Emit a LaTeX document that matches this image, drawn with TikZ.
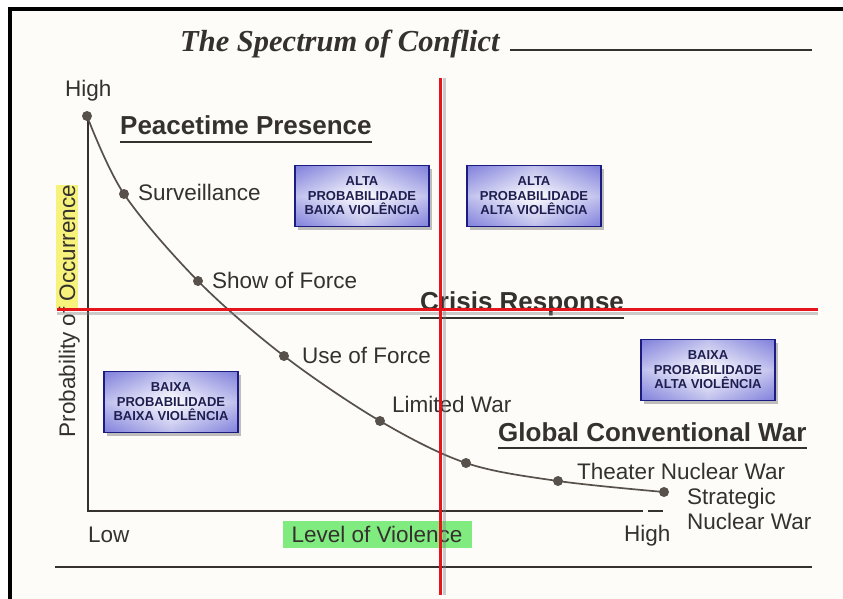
\documentclass[tikz,border=0pt]{standalone}
\usepackage{fontspec}
\setmainfont{Liberation Sans}
\newfontfamily\titlefont{Liberation Serif}
\usetikzlibrary{shadows}
\definecolor{paper}{HTML}{FDFCF8}
\definecolor{ink}{HTML}{35312E}
\definecolor{navy}{HTML}{1C1C80}
\definecolor{boxtext}{HTML}{1E1E50}
\definecolor{boxblue}{HTML}{8080DC}
\definecolor{redline}{HTML}{E8141C}
\definecolor{hlgreen}{HTML}{80EC80}
\definecolor{hlyellow}{HTML}{F6F27C}
\definecolor{dotc}{HTML}{57504B}
\begin{document}
\begin{tikzpicture}[x=1pt,y=-1pt,
  lbl/.style={inner sep=0pt, text=ink, font=\fontsize{22.5}{26}\selectfont},
  heading/.style={inner sep=0pt, text=ink, font=\bfseries\fontsize{26}{30}\selectfont},
  dot/.style={circle, fill=dotc, inner sep=0pt, minimum size=10pt},
  uline/.style={draw=ink, line width=1.6pt},
  qbox/.style={draw=navy, line width=1.6pt, minimum width=134pt, minimum height=61pt,
    inner sep=2pt, align=center, text=boxtext,
    font=\bfseries\fontsize{13}{14.5}\selectfont,
    drop shadow={shadow xshift=3pt, shadow yshift=-3pt, opacity=0.5, fill=gray},
    left color=boxblue, right color=boxblue, middle color=white,
    postaction={top color=boxblue, bottom color=boxblue, middle color=white, fill opacity=0.5},
    postaction={draw=navy, line width=1.6pt}},
  redl/.style={draw=redline, line width=3pt},
  reds/.style={draw=gray, opacity=0.4, line width=3pt}]
\useasboundingbox (0,0) rectangle (843,599);
\fill[paper] (10,9) rectangle (843,599);
\draw[black, line width=4pt] (10,599) -- (10,9) -- (843,9);

% title
\node[inner sep=0pt, anchor=base west, text=ink, font=\titlefont\bfseries\itshape\fontsize{30.5}{34}\selectfont] (title) at (180,52) {The Spectrum of Conflict};
\coordinate (tl1) at (510,50);
\coordinate (tl2) at (812,50);
\draw[uline] (tl1) -- (tl2);

% axes
\coordinate (ax0) at (88,118);
\coordinate (ax1) at (88,511);
\coordinate (ax2) at (643,511);
\coordinate (ax3) at (648,511);
\coordinate (ax4) at (663,511);
\draw[ink, line width=1.2pt] (ax0) -- (ax1) -- (ax2);
\draw[ink, line width=1.2pt] (ax3) -- (ax4);
\coordinate (bl1) at (55,567);
\coordinate (bl2) at (812,567);
\draw[ink, line width=1.6pt] (bl1) -- (bl2);

% axis labels
\node[lbl, anchor=base west] (hightop) at (65,97) {High};
\node[lbl, anchor=base west] (low) at (88,542) {Low};
\node[lbl, anchor=base west] (highbot) at (624,541) {High};
\fill[hlgreen] (283,521) rectangle (472,548);
\node[lbl, anchor=base] (lov) at (377,542) {Level of Violence};
\fill[hlyellow] (56,185) rectangle (78,309);
\node[lbl, rotate=90, anchor=base] (poo) at (75,311) {Probability of Occurrence};

% curve
\coordinate (c0) at (87,116);
\coordinate (c1) at (124,194);
\coordinate (c2) at (198,281);
\coordinate (c3) at (284,356);
\coordinate (c4) at (380,421);
\coordinate (c5) at (466,463);
\coordinate (c6) at (558,481);
\coordinate (c7) at (664,492);
\draw[dotc, line width=1.7pt] plot[smooth, tension=0.55] coordinates {(c0) (c1) (c2) (c3) (c4) (c5) (c6) (c7)};
\foreach \i in {0,...,7} { \node[dot] (d\i) at (c\i) {}; }

% point labels
\node[lbl, anchor=base west] (surv) at (138,200) {Surveillance};
\node[lbl, anchor=base west] (sof) at (212,288) {Show of Force};
\node[lbl, anchor=base west] (uof) at (302,363) {Use of Force};
\node[lbl, anchor=base west] (lw) at (392,412) {Limited War};
\node[lbl, anchor=base west] (tnw) at (577,479) {Theater Nuclear War};
\node[lbl, anchor=base west] (snw1) at (687,504) {Strategic};
\node[lbl, anchor=base west] (snw2) at (687,529) {Nuclear War};

% headings
\node[heading, anchor=base west] (peace) at (120,135) {Peacetime Presence};
\draw[uline] ([yshift=-7pt]peace.base west) -- ([yshift=-7pt]peace.base east);
\node[heading, anchor=base west] (crisis) at (420,310) {Crisis Response};
\draw[uline] ([yshift=-8pt]crisis.base west) -- ([yshift=-8pt]crisis.base east);
\node[heading, anchor=base west] (global) at (498,441) {Global Conventional War};
\draw[uline] ([yshift=-7pt]global.base west) -- ([yshift=-7pt]global.base east);

% quadrant boxes
\node[qbox] (q1) at (362,196) {ALTA\\PROBABILIDADE\\BAIXA VIOLÊNCIA};
\node[qbox] (q2) at (534,196) {ALTA\\PROBABILIDADE\\ALTA VIOLÊNCIA};
\node[qbox] (q3) at (171,402) {BAIXA\\PROBABILIDADE\\BAIXA VIOLÊNCIA};
\node[qbox] (q4) at (708,370) {BAIXA\\PROBABILIDADE\\ALTA VIOLÊNCIA};

% red dividing lines
\coordinate (rv1) at (440,78);
\coordinate (rv2) at (440,595);
\coordinate (rh1) at (57,309);
\coordinate (rh2) at (818,309);
\draw[reds] ([xshift=4pt]rv1) -- ([xshift=4pt]rv2);
\draw[reds] ([yshift=-4pt]rh1) -- ([yshift=-4pt]rh2);
\draw[redl] (rv1) -- (rv2);
\draw[redl] (rh1) -- (rh2);
\end{tikzpicture}
\end{document}
